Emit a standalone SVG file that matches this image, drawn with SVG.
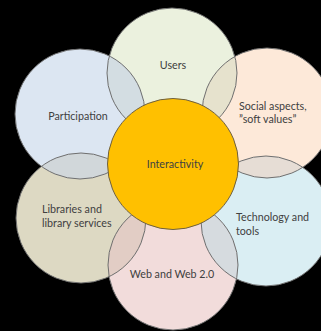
<svg xmlns="http://www.w3.org/2000/svg" width="321" height="331" viewBox="0 0 321 331">
<style>
.o{fill:none;stroke:#6f6f6f;stroke-width:1}
.t{font-family:Lato,"Liberation Sans",sans-serif;font-size:10.7px;fill:#404040}
.m{text-anchor:middle}
</style>
<defs>
<clipPath id="cU"><circle cx="172" cy="73" r="65"/></clipPath>
<clipPath id="cS"><circle cx="267" cy="113" r="65"/></clipPath>
<clipPath id="cT"><circle cx="266" cy="221" r="65"/></clipPath>
<clipPath id="cW"><circle cx="173" cy="265" r="65"/></clipPath>
<clipPath id="cL"><circle cx="81" cy="218" r="65"/></clipPath>
</defs>
<rect width="321" height="331" fill="#000"/>
<g id="users"><circle cx="172" cy="73" r="65" fill="#EBF1DE"/></g>
<g id="social"><circle cx="267" cy="113" r="65" fill="#FDE9D9"/></g>
<g id="technology"><circle cx="266" cy="221" r="65" fill="#DAEEF3"/></g>
<g id="web"><circle cx="173" cy="265" r="65" fill="#F2DCDB"/></g>
<g id="libraries"><circle cx="81" cy="218" r="65" fill="#DDD9C3"/></g>
<g id="participation"><circle cx="80" cy="114" r="65" fill="#DCE6F2"/></g>
<g id="overlaps">
<circle cx="80" cy="114" r="65" fill="#D3DDE2" clip-path="url(#cU)"/>
<circle cx="267" cy="113" r="65" fill="#E6E2CD" clip-path="url(#cU)"/>
<circle cx="266" cy="221" r="65" fill="#E6DDD5" clip-path="url(#cS)"/>
<circle cx="173" cy="265" r="65" fill="#D6DBDF" clip-path="url(#cT)"/>
<circle cx="81" cy="218" r="65" fill="#E2CDC5" clip-path="url(#cW)"/>
<circle cx="80" cy="114" r="65" fill="#D1D7DA" clip-path="url(#cL)"/>
</g>
<g id="outlines">
<circle class="o" cx="172" cy="73" r="65"/>
<circle class="o" cx="267" cy="113" r="65"/>
<circle class="o" cx="266" cy="221" r="65"/>
<circle class="o" cx="173" cy="265" r="65"/>
<circle class="o" cx="81" cy="218" r="65"/>
<circle class="o" cx="80" cy="114" r="65"/>
</g>
<g id="interactivity"><circle cx="173" cy="164" r="65.5" fill="#FFC000" stroke="#6e6040" stroke-width="1"/>
<text class="t m" x="175" y="168">Interactivity</text></g>
<g id="labels">
<text class="t m" x="173" y="69">Users</text>
<text class="t" x="239" y="110">Social aspects,</text>
<text class="t" x="239" y="123">”soft values”</text>
<text class="t" x="236" y="221">Technology and</text>
<text class="t" x="236" y="235">tools</text>
<text class="t m" x="172" y="278">Web and Web 2.0</text>
<text class="t" x="42" y="213">Libraries and</text>
<text class="t" x="42" y="227">library services</text>
<text class="t m" x="78" y="120">Participation</text>
</g>
<g id="connectors"/>
</svg>
